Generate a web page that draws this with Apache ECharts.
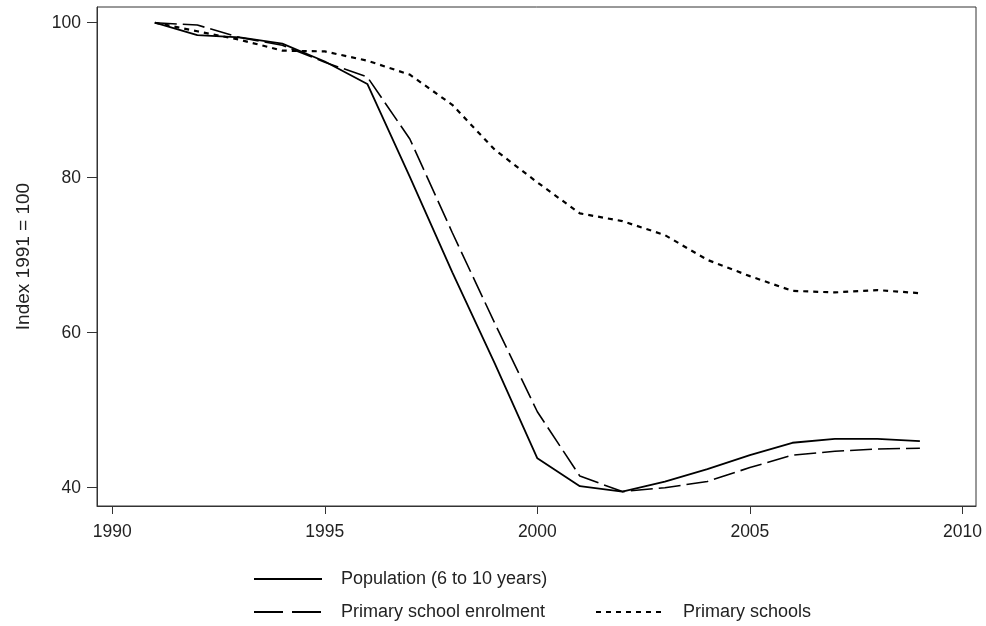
<!DOCTYPE html>
<html>
<head>
<meta charset="utf-8">
<script src="https://cdn.jsdelivr.net/npm/echarts@6/dist/echarts.min.js"></script>
<style>
html,body{margin:0;padding:0;background:#fff;}
#c{width:986px;height:626px;}
</style>
</head>
<body>
<div id="c"></div>
<script>
const years = [1991,1992,1993,1994,1995,1996,1997,1998,1999,2000,2001,2002,2003,2004,2005,2006,2007,2008,2009];
const population = [100,98.4,98.1,97.3,95.0,92.1,80.1,67.8,56.0,43.8,40.2,39.5,40.8,42.4,44.2,45.8,46.3,46.3,46.0];
const enrolment = [100,99.7,98.1,97.1,94.9,93.0,85.0,72.9,61.2,49.8,41.5,39.5,40.0,40.8,42.6,44.2,44.7,45.0,45.1];
const schools = [100,98.9,97.8,96.4,96.3,95.1,93.3,89.4,83.6,79.4,75.4,74.4,72.6,69.4,67.3,65.4,65.2,65.5,65.1];
const xTicks = [1990,1995,2000,2005,2010];
const yTicks = [40,60,80,100];
const names = ['Population (6 to 10 years)','Primary school enrolment','Primary schools'];

const pair = arr => years.map((y,i)=>[y,arr[i]]);
const font = '"Liberation Sans", Arial, sans-serif';
const txt = '#222';

const chart = echarts.init(document.getElementById('c'), null, {renderer:'canvas'});
const legendBase = {
  orient:'horizontal', itemWidth:68, itemHeight:14, selectedMode:false,
  itemStyle:{opacity:0},
  textStyle:{fontFamily:font, fontSize:18, color:txt, padding:[0,0,0,14]}
};
chart.setOption({
  animation:false,
  backgroundColor:'#fff',
  grid:{left:97, right:10, top:7, bottom:120, show:true, borderColor:'#333', borderWidth:1, backgroundColor:'transparent'},
  legend:[
    Object.assign({}, legendBase, {data:[names[0]], left:248, top:565}),
    Object.assign({}, legendBase, {data:[names[1]], left:248, top:598, lineStyle:{type:[29,9]}}),
    Object.assign({}, legendBase, {data:[names[2]], left:590, top:598})
  ],
  xAxis:{
    type:'value', min:1989.64, max:2010.32,
    axisLine:{show:true, lineStyle:{color:'#333', width:1}},
    axisTick:{show:true, length:8, inside:false, customValues:xTicks, lineStyle:{color:'#333'}},
    axisLabel:{customValues:xTicks, formatter:v=>String(v), margin:17, fontFamily:font, fontSize:17.5, color:txt},
    splitLine:{show:false}
  },
  yAxis:{
    type:'value', min:37.64, max:102.03,
    name:'Index 1991 = 100', nameLocation:'middle', nameGap:64, nameRotate:90,
    nameTextStyle:{fontFamily:font, fontSize:19, color:txt},
    axisLine:{show:true, lineStyle:{color:'#333', width:1}},
    axisTick:{show:true, length:10, inside:false, customValues:yTicks, lineStyle:{color:'#333'}},
    axisLabel:{customValues:yTicks, margin:16, fontFamily:font, fontSize:17.5, color:txt},
    splitLine:{show:false}
  },
  series:[
    {name:names[0], type:'line', data:pair(population), symbol:'none', showSymbol:false,
     lineStyle:{color:'#000', width:1.8, type:'solid'}, itemStyle:{color:'#000'}},
    {name:names[1], type:'line', data:pair(enrolment), symbol:'none', showSymbol:false,
     lineStyle:{color:'#000', width:1.6, type:[22,6]}, itemStyle:{color:'#000'}},
    {name:names[2], type:'line', data:pair(schools), symbol:'none', showSymbol:false,
     lineStyle:{color:'#000', width:2.2, type:[5,5]}, itemStyle:{color:'#000'}}
  ]
});
</script>
</body>
</html>
